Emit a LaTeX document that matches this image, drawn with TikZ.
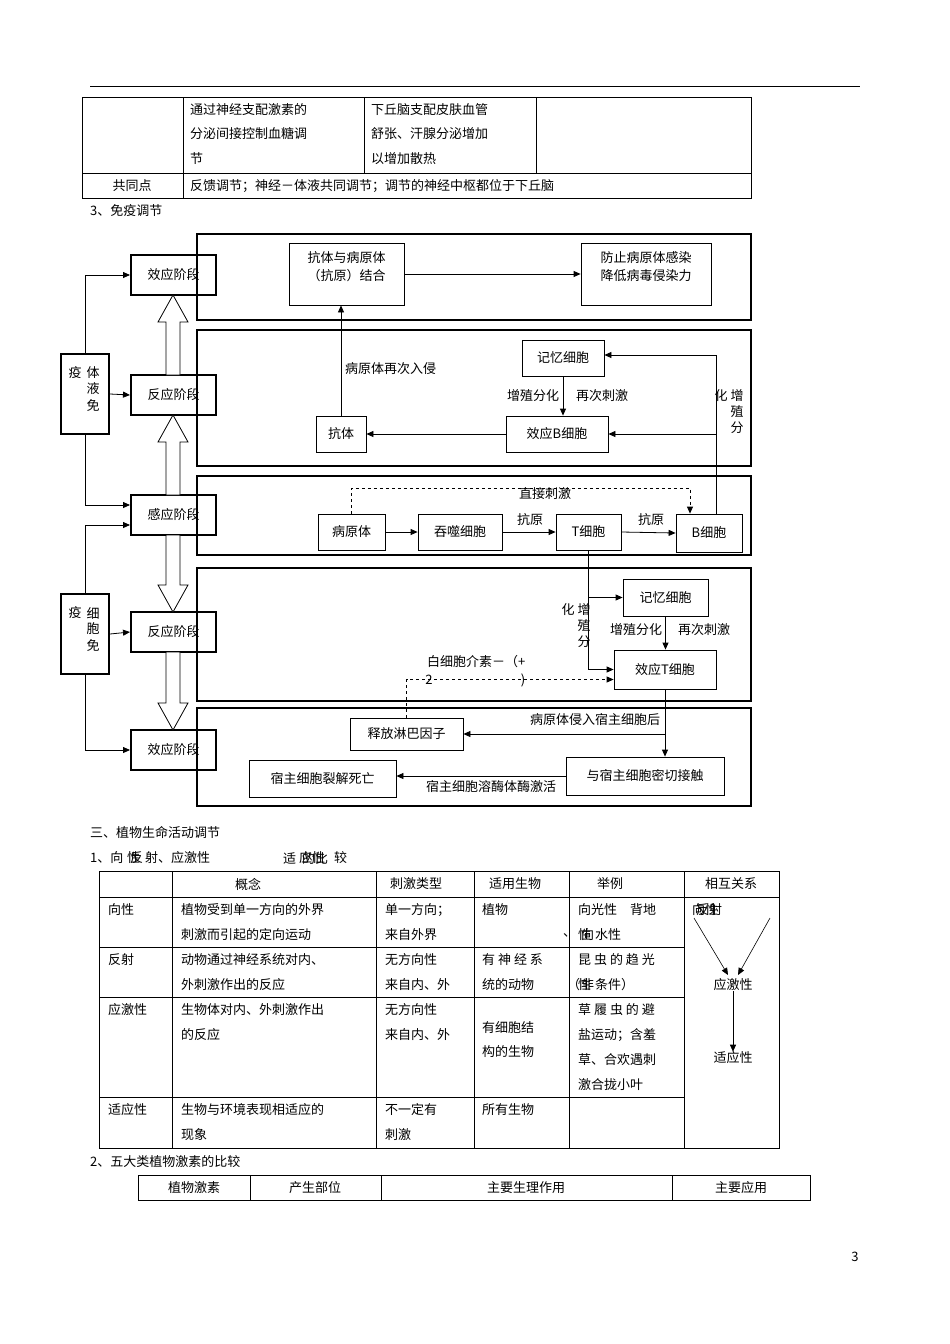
\documentclass[tikz,border=0pt]{standalone}
\usepackage{fontspec}
\setmainfont{Noto Sans CJK SC}
\usetikzlibrary{arrows.meta}
\begin{document}
\begin{tikzpicture}[x=1pt,y=-1pt,font=\fontsize{13}{15}\selectfont,
  box/.style={draw,line width=0.8pt,inner sep=1pt,align=center},
  stage/.style={draw,line width=2pt,inner sep=1pt,minimum width=85pt,minimum height=40pt},
  frame/.style={line width=2pt},
  arr/.style={line width=0.8pt,-{Triangle[length=7pt,width=6pt]}},
  t/.style={anchor=west,inner sep=0pt},
  tc/.style={inner sep=0pt},
  tab/.style={line width=0.7pt}]
\useasboundingbox (0,0) rectangle (950,1344);
\draw[line width=0.8pt] (90,86) -- (860,86);
% top table
\draw[tab] (82,97) rectangle (751,198);
\draw[tab] (82,173) -- (751,173);
\draw[tab] (183,97) -- (183,198);
\draw[tab] (364,97) -- (364,173);
\draw[tab] (536,97) -- (536,173);
\node[t] (a1) at (190,110) {通过神经支配激素的};
\node[t] (a2) at (190,134) {分泌间接控制血糖调};
\node[t] (a3) at (190,159) {节};
\node[t] (b1) at (371,110) {下丘脑支配皮肤血管};
\node[t] (b2) at (371,134) {舒张、汗腺分泌增加};
\node[t] (b3) at (371,159) {以增加散热};
\node[tc] (gs) at (132,186) {共同点};
\node[t] (gt) at (190,186) {反馈调节；神经－体液共同调节；调节的神经中枢都位于下丘脑};
\node[t] (h3) at (90,211) {3、免疫调节};
% frames
\draw[frame] (197,234) rectangle (751,320);
\draw[frame] (197,330) rectangle (751,466);
\draw[frame] (197,476) rectangle (751,555);
\draw[frame] (197,568) rectangle (751,701);
\draw[frame] (197,708) rectangle (751,806);
% stages
\node[stage] (effA) at (173.5,275) {效应阶段};
\node[stage] (resA) at (173.5,395) {反应阶段};
\node[stage] (sens) at (173.5,515) {感应阶段};
\node[stage] (resB) at (173.5,632) {反应阶段};
\node[stage] (effB) at (173.5,750) {效应阶段};
\node[draw,line width=2pt,minimum width=48pt,minimum height=80pt] (humor) at (85,394) {};
\node[tc] at (75,373) {疫};\node[tc] at (93,373) {体};\node[tc] at (93,389) {液};\node[tc] at (93,405) {免};
\node[draw,line width=2pt,minimum width=48pt,minimum height=80pt] (cell) at (85,634) {};
\node[tc] at (75,613) {疫};\node[tc] at (93,613) {细};\node[tc] at (93,629) {胞};\node[tc] at (93,645) {免};
\draw[arr] (humor.north) |- (effA.west);
\draw[arr] (humor.east) -- (resA.west);
\draw[arr] (humor.south) |- ([yshift=10pt]sens.west);
\draw[arr] (cell.north) |- ([yshift=-10pt]sens.west);
\draw[arr] (cell.east) -- (resB.west);
\draw[arr] (cell.south) |- (effB.west);
% hollow arrows
\newcommand\blkup[2]{\draw[line width=0.8pt,fill=white] (166,#1) -- (166,#2+27) -- (158,#2+27) -- (173,#2) -- (188,#2+27) -- (180,#2+27) -- (180,#1) -- cycle;}
\newcommand\blkdn[2]{\draw[line width=0.8pt,fill=white] (166,#1) -- (166,#2-27) -- (158,#2-27) -- (173,#2) -- (188,#2-27) -- (180,#2-27) -- (180,#1) -- cycle;}
\blkup{375}{295}
\blkup{495}{415}
\blkdn{535}{612}
\blkdn{652}{730}
% frame 1
\node[box,minimum width=115pt,minimum height=62pt] (ab) at (346.5,274) {};
\node[tc] at (346.5,258) {抗体与病原体};\node[tc] at (346.5,276) {（抗原）结合};
\node[box,minimum width=130pt,minimum height=62pt] (prev) at (646,274) {};
\node[tc] at (646,258) {防止病原体感染};\node[tc] at (646,276) {降低病毒侵染力};
\draw[arr] (ab.east) -- (prev.west);
% frame 2
\node[box,minimum width=82pt,minimum height=36pt] (mem1) at (563,358) {记忆细胞};
\node[box,minimum width=102pt,minimum height=36pt] (effBc) at (557,434) {效应B细胞};
\node[box,minimum width=50pt,minimum height=36pt] (abd) at (341,434) {抗体};
\draw[arr] (mem1.south) -- (mem1.south|-effBc.north);
\draw[arr] (effBc.west) -- (abd.east);
\draw[arr] (abd.north) -- (abd.north|-ab.south);
\node[t] (l1) at (345,369) {病原体再次入侵};
\node[tc] (l2) at (533,396) {增殖分化};
\node[tc] (l3) at (602,396) {再次刺激};
\node[tc] at (721,396) {化};\node[tc] at (737,396) {增};\node[tc] at (737,412) {殖};\node[tc] at (737,428) {分};
% frame 3
\node[box,minimum width=67pt,minimum height=36pt] (path) at (351.5,532) {病原体};
\node[box,minimum width=84pt,minimum height=36pt] (phag) at (460,532) {吞噬细胞};
\node[box,minimum width=65pt,minimum height=36pt] (tcell) at (588.5,532) {T细胞};
\node[box,minimum width=66pt,minimum height=38pt] (bcell) at (709,533) {B细胞};
\draw[arr] (path.east) -- (phag.west);
\draw[arr] (phag.east) -- (tcell.west);
\draw[arr] (tcell.east) -- (bcell.west);
\node[tc] at (530,520) {抗原};
\node[tc] at (651,520) {抗原};
\coordinate (dd) at (690,488);
\draw[arr,dashed] (path.north) |- (dd) -- (dd|-bcell.north);
\node[tc] at (545,494) {直接刺激};
\coordinate (rt) at (716,355);
\coordinate (rb) at (716,434);
\draw[line width=0.8pt] ([xshift=7pt]bcell.north) -- (rt);
\draw[arr] (rt) -- (rt-|mem1.east);
\draw[arr] (rb) -- (rb-|effBc.east);
% frame 4
\node[box,minimum width=85pt,minimum height=37pt] (mem2) at (665.5,597.5) {记忆细胞};
\node[box,minimum width=102pt,minimum height=39pt] (effT) at (665,669.5) {效应T细胞};
\draw[arr] (tcell.south) |- (effT.west);
\draw[arr] (tcell.south|-mem2.west) -- (mem2.west);
\draw[arr] (mem2.south) -- (mem2.south|-effT.north);
\node[tc] at (636,630) {增殖分化};
\node[tc] at (704,630) {再次刺激};
\node[tc] at (568,610) {化};\node[tc] at (584,610) {增};\node[tc] at (584,626) {殖};\node[tc] at (584,642) {分};
% frame 5
\node[box,minimum width=113pt,minimum height=32pt] (lymph) at (406.5,734) {释放淋巴因子};
\node[box,minimum width=158pt,minimum height=38pt] (contact) at (645,776) {与宿主细胞密切接触};
\node[box,minimum width=147pt,minimum height=37pt] (lysis) at (322.5,778.5) {宿主细胞裂解死亡};
\draw[arr,dashed] (lymph.north) |- ([yshift=-10pt]effT.west);
\node[t] at (427,662) {白细胞介素－（+};
\node[tc] at (429,680) {2};
\node[tc] at (523,680) {)};
\draw[arr] (effT.south) -- (effT.south|-contact.north);
\draw[arr] (effT.south|-lymph.east) -- (lymph.east);
\draw[arr] (contact.west) -- (contact.west-|lysis.east);
\node[tc] at (595,720) {病原体侵入宿主细胞后};
\node[tc] at (491,787) {宿主细胞溶酶体酶激活};
% section
\node[t] at (90,832) {三、植物生命活动调节};
\node[t] at (90,858) {1、向};
\node[t] at (127,858) {性};\node[t] at (130,858) {反};
\node[t] at (145,858) {射、应激性};
\node[t] at (283,858) {适};
\node[t] at (299,858) {应性};\node[t] at (302,858) {的比};
\node[t] at (334,858) {较};
% table 2
\draw[tab] (99,871) rectangle (779,1148);
\foreach \x in {172,376,474,569,684} \draw[tab] (\x,871) -- (\x,1148);
\draw[tab] (99,897) -- (779,897);
\foreach \y in {947,997,1097} \draw[tab] (99,\y) -- (684,\y);
\node[tc] at (248,884) {概念};
\node[tc] at (416,884) {刺激类型};
\node[tc] at (515,884) {适用生物};
\node[tc] at (610,884) {举例};
\node[tc] at (731,884) {相互关系};
\node[t] at (108,910) {向性};
\node[t] at (181,910) {植物受到单一方向的外界};
\node[t] at (385,910) {单一方向；};
\node[t] at (482,910) {植物};
\node[t] at (578,910) {向光性　背地};
\node[t] at (108,960) {反射};
\node[t] at (181,960) {动物通过神经系统对内、};
\node[t] at (385,960) {无方向性};
\node[t] at (482,960) {有 神 经 系};
\node[t] at (578,960) {昆 虫 的 趋 光};
\node[t] at (108,1010) {应激性};
\node[t] at (181,1010) {生物体对内、外刺激作出};
\node[t] at (385,1010) {无方向性};
\node[t] at (578,1010) {草 履 虫 的 避};
\node[t] at (108,1110) {适应性};
\node[t] at (181,1110) {生物与环境表现相适应的};
\node[t] at (385,1110) {不一定有};
\node[t] at (482,1110) {所有生物};
\node[t] at (181,935) {刺激而引起的定向运动};
\node[t] at (385,935) {来自外界};
\node[t] at (563,935) {、};
\node[t] at (578,935) {性};\node[t] at (581,935) {向};
\node[t] at (595,935) {水性};
\node[t] at (181,985) {外刺激作出的反应};
\node[t] at (385,985) {来自内、外};
\node[t] at (482,985) {统的动物};
\node[t] at (567,985) {（};
\node[t] at (578,985) {性};\node[t] at (581,985) {非};
\node[t] at (595,985) {条件）};
\node[t] at (181,1035) {的反应};
\node[t] at (385,1035) {来自内、外};
\node[t] at (482,1028) {有细胞结};
\node[t] at (482,1052) {构的生物};
\node[t] at (578,1035) {盐运动；含羞};
\node[t] at (578,1060) {草、合欢遇刺};
\node[t] at (578,1085) {激合拢小叶};
\node[t] (xx) at (181,1135) {现象};
\node[t] (cj) at (385,1135) {刺激};
\node[t] at (692,910) {向性};\node[t] at (696,910) {反射};
\node[tc] (yjx) at (733,985) {应激性};
\node[tc] (syx) at (733,1058) {适应性};
\draw[arr,line width=0.6pt] (694,918) -- (728,975);
\draw[arr,line width=0.6pt] (770,918) -- (738,975);
\draw[arr,line width=0.6pt] (yjx.south) -- (syx.north);
\node[t] at (90,1162) {2、五大类植物激素的比较};
\draw[tab] (138,1175) rectangle (810,1200);
\foreach \x in {250,381,672} \draw[tab] (\x,1175) -- (\x,1200);
\node[tc] at (194,1188) {植物激素};
\node[tc] at (315,1188) {产生部位};
\node[tc] at (526,1188) {主要生理作用};
\node[tc] at (741,1188) {主要应用};
\node[tc] at (855,1257) {3};
\end{tikzpicture}
\end{document}
